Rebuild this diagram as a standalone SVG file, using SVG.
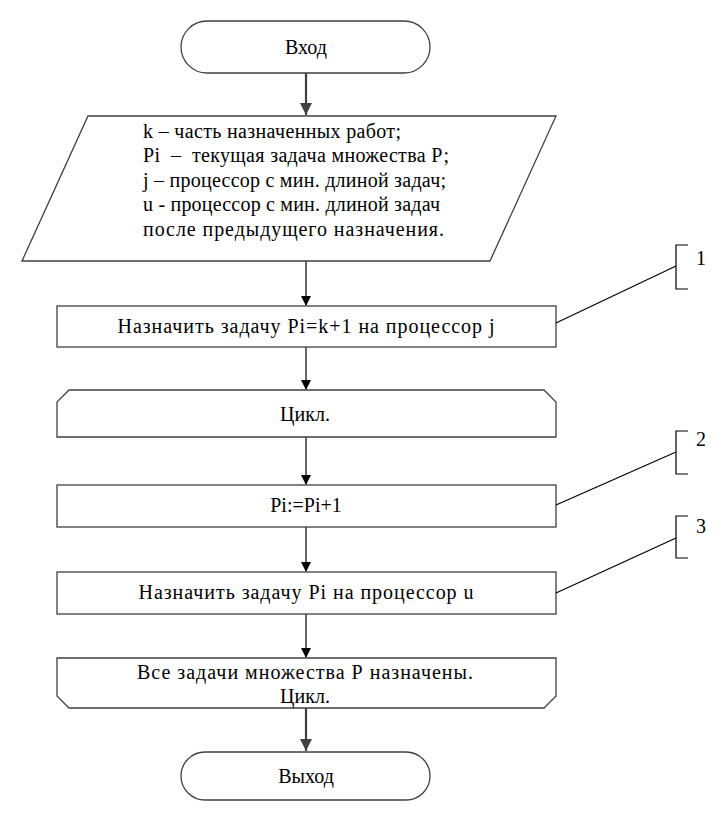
<svg xmlns="http://www.w3.org/2000/svg" width="723" height="817" viewBox="0 0 723 817">
<defs>
<marker id="ah" markerWidth="10" markerHeight="12" refX="9" refY="5" orient="auto" markerUnits="userSpaceOnUse" viewBox="0 0 10 10"><path d="M0,0 L10,5 L0,10 Z" fill="#000"/></marker>
<marker id="ahg" markerWidth="12" markerHeight="14" refX="10" refY="5" orient="auto" markerUnits="userSpaceOnUse" viewBox="0 0 10 10"><path d="M0,0 L10,5 L0,10 Z" fill="#404040"/></marker>
<style>
.s{fill:#fff;stroke:#404040;stroke-width:1.3}
.t{font-family:'Liberation Serif','Times New Roman','DejaVu Serif',serif;font-size:20px;fill:#000;white-space:pre}
.c{text-anchor:middle}
.e{stroke:#000;stroke-width:1.2;fill:none}
.eg{stroke:#404040;stroke-width:2.2;fill:none}
.a{stroke:#000;stroke-width:1.2;fill:none}
</style>
</defs>
<rect width="723" height="817" fill="#fff"/>
<g id="connectors">
<line class="eg" x1="306" y1="73" x2="306" y2="115" marker-end="url(#ahg)"/>
<line class="e" x1="306" y1="261" x2="306" y2="305" marker-end="url(#ah)"/>
<line class="e" x1="306" y1="347" x2="306" y2="389" marker-end="url(#ah)"/>
<line class="e" x1="306" y1="437" x2="306" y2="484" marker-end="url(#ah)"/>
<line class="e" x1="306" y1="527" x2="306" y2="571" marker-end="url(#ah)"/>
<line class="e" x1="306" y1="614" x2="306" y2="657" marker-end="url(#ah)"/>
<line class="eg" x1="306" y1="708" x2="306" y2="751" marker-end="url(#ahg)"/>
</g>
<g id="start">
<rect class="s" x="181" y="21" width="249" height="52" rx="26" ry="26"/>
<text class="t c" x="306" y="54">Вход</text>
</g>
<g id="data">
<polygon class="s" points="88,116 556,116 490,261 22,261"/>
<text class="t" x="143" y="138" textLength="258">k – часть назначенных работ;</text>
<text class="t" x="143" y="162" textLength="306" xml:space="preserve">Pi  –  текущая задача множества Р;</text>
<text class="t" x="143" y="187" textLength="303">j – процессор с мин. длиной задач;</text>
<text class="t" x="143" y="211" textLength="297">u - процессор с мин. длиной задач</text>
<text class="t" x="143" y="236" textLength="301">после предыдущего назначения.</text>
</g>
<g id="step1">
<rect class="s" x="57" y="306" width="499" height="41"/>
<text class="t c" x="306" y="333" textLength="377">Назначить задачу Pi=k+1 на процессор j</text>
</g>
<g id="loopStart">
<polygon class="s" points="69,390 544,390 556,402 556,437 57,437 57,402"/>
<text class="t c" x="305" y="421">Цикл.</text>
</g>
<g id="step2">
<rect class="s" x="57" y="485" width="499" height="42"/>
<text class="t c" x="306" y="512">Pi:=Pi+1</text>
</g>
<g id="step3">
<rect class="s" x="57" y="572" width="499" height="42"/>
<text class="t c" x="306" y="599" textLength="335">Назначить задачу Pi на процессор u</text>
</g>
<g id="loopEnd">
<polygon class="s" points="57,658 556,658 556,696 544,708 69,708 57,696"/>
<text class="t c" x="305" y="679" textLength="336">Все задачи множества Р назначены.</text>
<text class="t c" x="305" y="703">Цикл.</text>
</g>
<g id="end">
<rect class="s" x="181" y="752" width="249" height="48" rx="24" ry="24"/>
<text class="t c" x="306" y="783">Выход</text>
</g>
<g id="annotations">
<line class="a" x1="556" y1="323" x2="676" y2="266"/>
<path class="a" d="M688,245 H676 V289 H688"/>
<text class="t" x="696" y="265">1</text>
<line class="a" x1="556" y1="505" x2="676" y2="452"/>
<path class="a" d="M688,431 H676 V474 H688"/>
<text class="t" x="696" y="446">2</text>
<line class="a" x1="556" y1="593" x2="676" y2="538"/>
<path class="a" d="M688,516 H676 V558 H688"/>
<text class="t" x="696" y="533">3</text>
</g>
</svg>
